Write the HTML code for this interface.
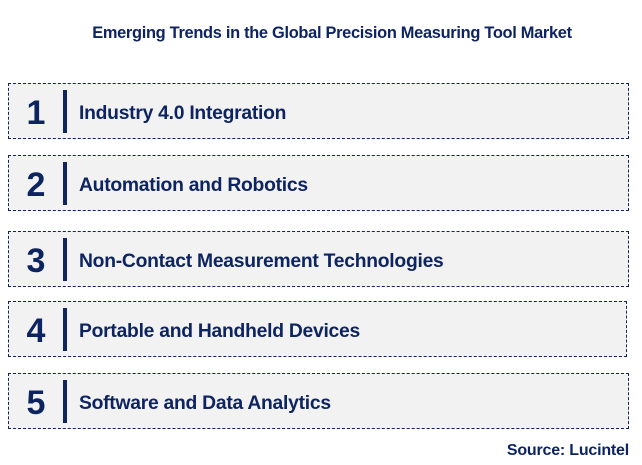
<!DOCTYPE html>
<html><head><meta charset="utf-8"><style>
body{margin:0;width:642px;height:465px;background:#fff;font-family:"Liberation Sans",Arial,sans-serif;position:relative;overflow:hidden}
.t{position:absolute;left:0;width:664px;top:24px;text-align:center;font-size:16.4px;font-weight:bold;color:#0d2461;letter-spacing:-0.3px}
.b{position:absolute;left:8px;width:619px;height:54px;background:#f2f2f2;border:1px dashed #0d2461}
.n{position:absolute;left:12px;width:30px;top:1px;line-height:56px;text-align:center;font-size:34px;font-weight:bold;color:#0d2461}
.d{position:absolute;left:54px;top:6px;width:4px;height:43px;background:#0d2461}
.l{position:absolute;left:70px;top:2px;line-height:56px;font-size:19.3px;font-weight:bold;color:#0d2461;letter-spacing:-0.25px}
.s{position:absolute;right:13px;top:442px;font-size:16px;font-weight:bold;color:#0d2461;letter-spacing:-0.2px}
</style></head><body>
<div class="t">Emerging Trends in the Global Precision Measuring Tool Market</div>
<div class="b" style="top:83px"><div class="n">1</div><div class="d"></div><div class="l">Industry 4.0 Integration</div></div>
<div class="b" style="top:155px"><div class="n">2</div><div class="d"></div><div class="l">Automation and Robotics</div></div>
<div class="b" style="top:231px"><div class="n">3</div><div class="d"></div><div class="l">Non-Contact Measurement Technologies</div></div>
<div class="b" style="top:301px;width:617px"><div class="n">4</div><div class="d"></div><div class="l">Portable and Handheld Devices</div></div>
<div class="b" style="top:373px"><div class="n">5</div><div class="d"></div><div class="l">Software and Data Analytics</div></div>
<div class="s">Source: Lucintel</div>
</body></html>
